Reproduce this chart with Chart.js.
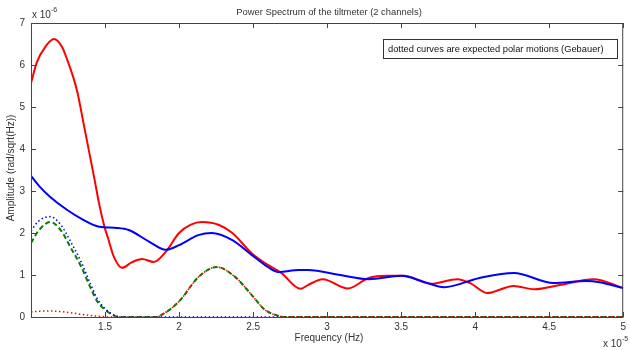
<!DOCTYPE html>
<html>
<head>
<meta charset="utf-8">
<script src="https://cdn.jsdelivr.net/npm/chart.js@4.4.1/dist/chart.umd.min.js"></script>
<style>
  html, body { margin: 0; padding: 0; background: #fff; }
  #wrap { width: 630px; height: 350px; }
</style>
</head>
<body>
<div id="wrap"><canvas id="c" width="630" height="350"></canvas></div>
<script>
// Frequencies in units of 1e-5 Hz, amplitudes in units of 1e-6 rad/sqrt(Hz)
const xTicks = [1, 1.5, 2, 2.5, 3, 3.5, 4, 4.5, 5];
const yTicks = [0, 1, 2, 3, 4, 5, 6, 7];

// Channel 1 (red)
const ch1Freq = [1.00, 1.04, 1.10, 1.154, 1.21, 1.24, 1.31, 1.36, 1.43, 1.46, 1.50, 1.52, 1.56, 1.615, 1.68, 1.75, 1.83, 1.91, 2.00, 2.08, 2.155, 2.27, 2.36, 2.49, 2.60, 2.69, 2.82, 2.87, 2.97, 3.14, 3.28, 3.41, 3.52, 3.70, 3.88, 3.97, 4.08, 4.26, 4.40, 4.57, 4.80, 5.00];
const ch1Amp  = [5.57, 6.07, 6.45, 6.62, 6.43, 6.17, 5.40, 4.52, 3.26, 2.70, 2.10, 1.88, 1.43, 1.17, 1.30, 1.38, 1.31, 1.55, 2.00, 2.20, 2.26, 2.19, 2.00, 1.52, 1.24, 1.05, 0.67, 0.76, 0.90, 0.68, 0.93, 0.98, 0.98, 0.79, 0.90, 0.80, 0.57, 0.74, 0.66, 0.76, 0.90, 0.69];

// Channel 2 (blue)
const ch2Freq = [1.00, 1.06, 1.13, 1.24, 1.35, 1.46, 1.58, 1.66, 1.80, 1.91, 2.00, 2.13, 2.22, 2.36, 2.49, 2.60, 2.67, 2.81, 2.87, 3.09, 3.28, 3.50, 3.66, 3.79, 4.03, 4.26, 4.53, 4.75, 4.84, 5.00];
const ch2Amp  = [3.36, 3.10, 2.86, 2.56, 2.32, 2.15, 2.12, 2.07, 1.79, 1.60, 1.71, 1.95, 2.00, 1.83, 1.48, 1.19, 1.07, 1.12, 1.12, 1.00, 0.90, 0.98, 0.83, 0.71, 0.93, 1.05, 0.81, 0.86, 0.83, 0.69];

// Expected polar motion, channel 1 (red dotted)
const pol1Freq = [1.00, 1.08, 1.15, 1.25, 1.35, 1.45, 1.55, 1.85, 1.89, 1.95, 2.02, 2.07, 2.13, 2.255, 2.38, 2.45, 2.52, 2.58, 2.65, 2.72, 5.00];
const pol1Amp  = [0.12, 0.14, 0.14, 0.11, 0.06, 0.02, 0.00, 0.00, 0.07, 0.21, 0.45, 0.69, 0.95, 1.19, 0.95, 0.69, 0.40, 0.17, 0.05, 0.00, 0.00];

// Expected polar motion, channel 2 (blue dotted)
const pol2Freq = [1.00, 1.05, 1.13, 1.20, 1.27, 1.34, 1.40, 1.45, 1.52, 1.57, 1.62, 5.00];
const pol2Amp  = [2.05, 2.28, 2.39, 2.20, 1.78, 1.30, 0.80, 0.42, 0.14, 0.03, 0.00, 0.00];

// Combined expected polar motion (green dashed)
const polSumFreq = [1.00, 1.05, 1.13, 1.20, 1.27, 1.34, 1.40, 1.45, 1.52, 1.57, 1.62, 1.85, 1.89, 1.95, 2.02, 2.07, 2.13, 2.255, 2.38, 2.45, 2.52, 2.58, 2.65, 2.72, 5.00];
const polSumAmp  = [1.76, 2.05, 2.26, 2.07, 1.64, 1.19, 0.71, 0.36, 0.12, 0.02, 0.00, 0.00, 0.07, 0.21, 0.45, 0.69, 0.95, 1.19, 0.95, 0.69, 0.40, 0.17, 0.05, 0.00, 0.00];

const pts = (xs, ys) => xs.map((x, i) => ({ x: x, y: ys[i] }));

const FONT = '"Liberation Sans", Arial, sans-serif';
const INK = '#333333';

function line(label, data, color, width, dash) {
  return {
    label: label,
    data: data,
    borderColor: color,
    borderWidth: width,
    borderDash: dash || [],
    pointRadius: 0,
    fill: false,
    clip: { left: 0, top: 0, right: 0, bottom: 2 },
    cubicInterpolationMode: 'monotone'
  };
}

// Axes frame, inward ticks, title, exponents and the note box
const decorations = {
  id: 'decorations',
  afterDraw(chart) {
    const { ctx, chartArea: a, scales: { x, y } } = chart;
    ctx.save();
    ctx.strokeStyle = '#444';
    ctx.lineWidth = 1;
    ctx.strokeRect(a.left + 0.5, a.top + 0.5, a.right - a.left - 1, a.bottom - a.top);

    const tl = 5;
    ctx.beginPath();
    xTicks.forEach(v => {
      const px = Math.round(x.getPixelForValue(v)) + 0.5;
      ctx.moveTo(px, a.bottom); ctx.lineTo(px, a.bottom - tl);
      ctx.moveTo(px, a.top); ctx.lineTo(px, a.top + tl);
    });
    yTicks.forEach(v => {
      const py = Math.round(y.getPixelForValue(v)) + 0.5;
      ctx.moveTo(a.left, py); ctx.lineTo(a.left + tl, py);
      ctx.moveTo(a.right, py); ctx.lineTo(a.right - tl, py);
    });
    ctx.stroke();

    ctx.fillStyle = INK;
    ctx.textBaseline = 'middle';

    // title
    ctx.font = '9.4px ' + FONT;
    ctx.textAlign = 'center';
    ctx.fillText('Power Spectrum of the tiltmeter (2 channels)', 329, 12);

    // axis titles
    ctx.font = '10px ' + FONT;
    ctx.fillText('Frequency (Hz)', 329, 338);
    ctx.save();
    ctx.translate(11, (a.top + a.bottom) / 2 - 2);
    ctx.rotate(-Math.PI / 2);
    ctx.fillText('Amplitude (rad/sqrt(Hz))', 0, 0);
    ctx.restore();

    // exponent labels
    ctx.textAlign = 'left';
    ctx.font = '10px ' + FONT;
    ctx.fillText('x 10', 32, 15);
    ctx.font = '7px ' + FONT;
    ctx.fillText('-6', 51, 10);
    ctx.font = '10px ' + FONT;
    ctx.fillText('x 10', 603, 344);
    ctx.font = '7px ' + FONT;
    ctx.fillText('-5', 622, 339);

    // note box
    ctx.fillStyle = '#fff';
    ctx.fillRect(383, 39, 234, 19);
    ctx.strokeStyle = '#333';
    ctx.strokeRect(383.5, 39.5, 234, 19);
    ctx.fillStyle = '#111';
    ctx.font = '9.3px ' + FONT;
    ctx.fillText('dotted curves are expected polar motions (Gebauer)', 388, 49);
    ctx.restore();
  }
};

new Chart(document.getElementById('c'), {
  type: 'line',
  data: {
    datasets: [
      line('Polar motion ch1', pts(pol1Freq, pol1Amp), '#ff0000', 1.5, [1.5, 2.5]),
      line('Polar motion ch2', pts(pol2Freq, pol2Amp), '#0000ff', 1.5, [1.5, 2.5]),
      line('Polar motion sum', pts(polSumFreq, polSumAmp), '#008000', 2, [5, 3]),
      line('Channel 2', pts(ch2Freq, ch2Amp), '#0000ff', 2),
      line('Channel 1', pts(ch1Freq, ch1Amp), '#ff0000', 2)
    ]
  },
  options: {
    responsive: false,
    animation: false,
    layout: { padding: { top: 23, right: 3, left: 0, bottom: 0 } },
    plugins: { legend: { display: false }, title: { display: false }, tooltip: { enabled: false } },
    scales: {
      x: {
        type: 'linear',
        min: 1, max: 5,
        afterFit(s) { s.height = 33; },
        afterBuildTicks(s) { s.ticks = xTicks.map(v => ({ value: v })); },
        grid: { display: false, drawTicks: false },
        border: { display: false },
        ticks: {
          padding: 4,
          color: INK,
          font: { family: FONT, size: 10 },
          maxRotation: 0,
          autoSkip: false,
          callback: v => (v === 1 ? '' : String(v))
        }
      },
      y: {
        type: 'linear',
        min: 0, max: 7,
        afterFit(s) { s.width = 31; },
        afterBuildTicks(s) { s.ticks = yTicks.map(v => ({ value: v })); },
        grid: { display: false, drawTicks: false },
        border: { display: false },
        ticks: {
          padding: 6,
          color: INK,
          font: { family: FONT, size: 10 },
          callback: v => String(v)
        }
      }
    }
  },
  plugins: [decorations]
});
</script>
</body>
</html>
